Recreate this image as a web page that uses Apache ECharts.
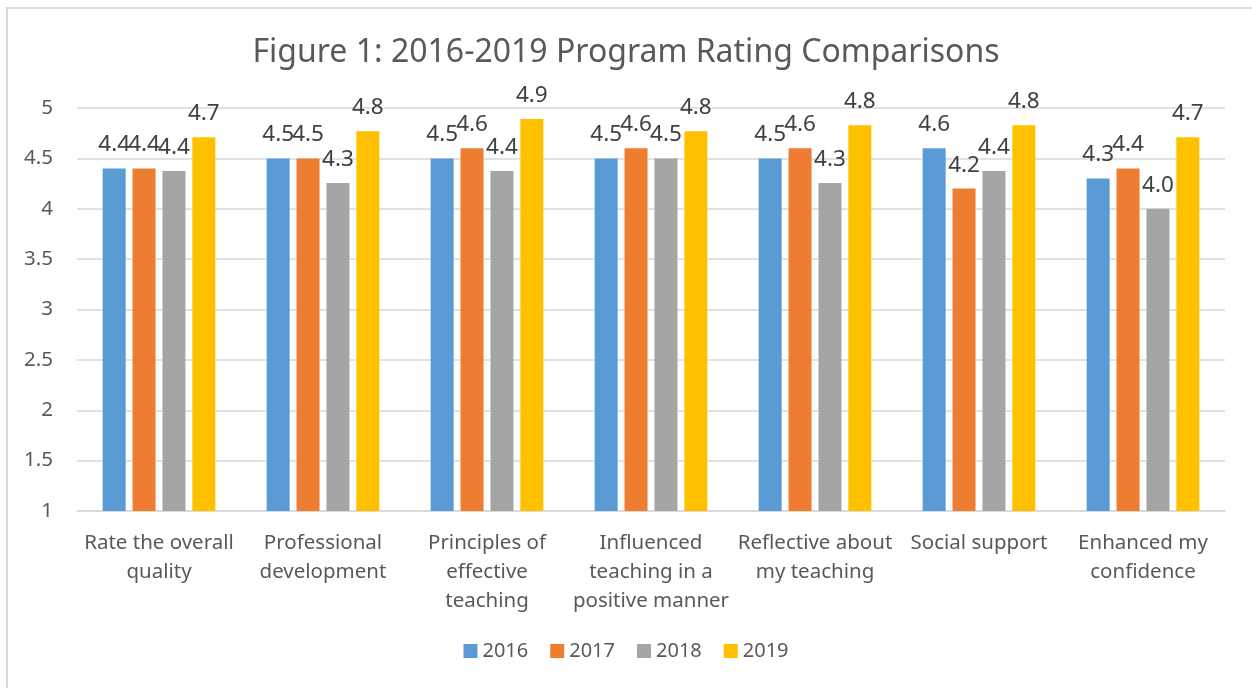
<!DOCTYPE html>
<html>
<head>
<meta charset="utf-8">
<script src="https://cdn.jsdelivr.net/npm/echarts@6/dist/echarts.min.js"></script>
<style>
html,body{margin:0;padding:0;background:#fff;}
#chart{width:1252px;height:688px;}
</style>
</head>
<body>
<div id="chart"></div>
<script>
const categories = [
  "Rate the overall\nquality",
  "Professional\ndevelopment",
  "Principles of\neffective\nteaching",
  "Influenced\nteaching in a\npositive manner",
  "Reflective about\nmy teaching",
  "Social support",
  "Enhanced my\nconfidence"
];
const seriesNames = ["2016", "2017", "2018", "2019"];
const values2016 = [4.40, 4.50, 4.50, 4.50, 4.50, 4.60, 4.30];
const values2017 = [4.40, 4.50, 4.60, 4.60, 4.60, 4.20, 4.40];
const values2018 = [4.375, 4.256, 4.375, 4.50, 4.256, 4.375, 4.00];
const values2019 = [4.71, 4.77, 4.89, 4.77, 4.83, 4.83, 4.71];
const colors = ["#5b9bd5", "#ed7d31", "#a5a5a5", "#ffc000"];
const yTicks = { min: 1, max: 5, interval: 0.5 };

const FONT = "'Noto Sans', 'Open Sans', sans-serif";
const allValues = [values2016, values2017, values2018, values2019];

const chart = echarts.init(document.getElementById('chart'), null, { renderer: 'canvas' });
chart.setOption({
  animation: false,
  backgroundColor: '#ffffff',
  textStyle: { fontFamily: FONT },
  title: {
    text: "Figure 1: 2016-2019 Program Rating Comparisons",
    left: 'center',
    top: 32,
    textStyle: { fontFamily: FONT, fontSize: 32, fontWeight: 'normal', color: '#595959' }
  },
  graphic: [{
    type: 'rect',
    shape: { x: 7, y: 8, width: 1400, height: 900 },
    style: { fill: 'none', stroke: '#d9d9d9', lineWidth: 2 },
    silent: true
  }],
  legend: {
    data: seriesNames,
    bottom: 22,
    left: 'center',
    itemWidth: 14,
    itemHeight: 14,
    itemGap: 22,
    icon: 'rect',
    textStyle: { fontFamily: FONT, fontSize: 20, color: '#595959' }
  },
  grid: { left: 77, right: 27, top: 108, bottom: 177, containLabel: false },
  xAxis: {
    type: 'category',
    data: categories,
    axisLine: { show: true, lineStyle: { color: '#d9d9d9', width: 1.5 } },
    axisTick: { show: false },
    axisLabel: { fontFamily: FONT, fontSize: 20.5, color: '#595959', lineHeight: 29, margin: 18, interval: 0 }
  },
  yAxis: {
    type: 'value',
    min: yTicks.min,
    max: yTicks.max,
    interval: yTicks.interval,
    axisLine: { show: false },
    axisTick: { show: false },
    splitLine: { lineStyle: { color: '#d9d9d9', width: 1.5 } },
    axisLabel: { fontFamily: FONT, fontSize: 20.5, color: '#595959', margin: 24 }
  },
  series: seriesNames.map((name, i) => ({
    name: name,
    type: 'bar',
    data: allValues[i],
    barWidth: 23,
    barGap: '30%',
    itemStyle: { color: colors[i] },
    label: {
      show: true,
      position: 'top',
      distance: 12,
      fontFamily: FONT,
      fontSize: 22.5,
      color: '#404040',
      formatter: p => p.value.toFixed(1)
    }
  }))
});
</script>
</body>
</html>
